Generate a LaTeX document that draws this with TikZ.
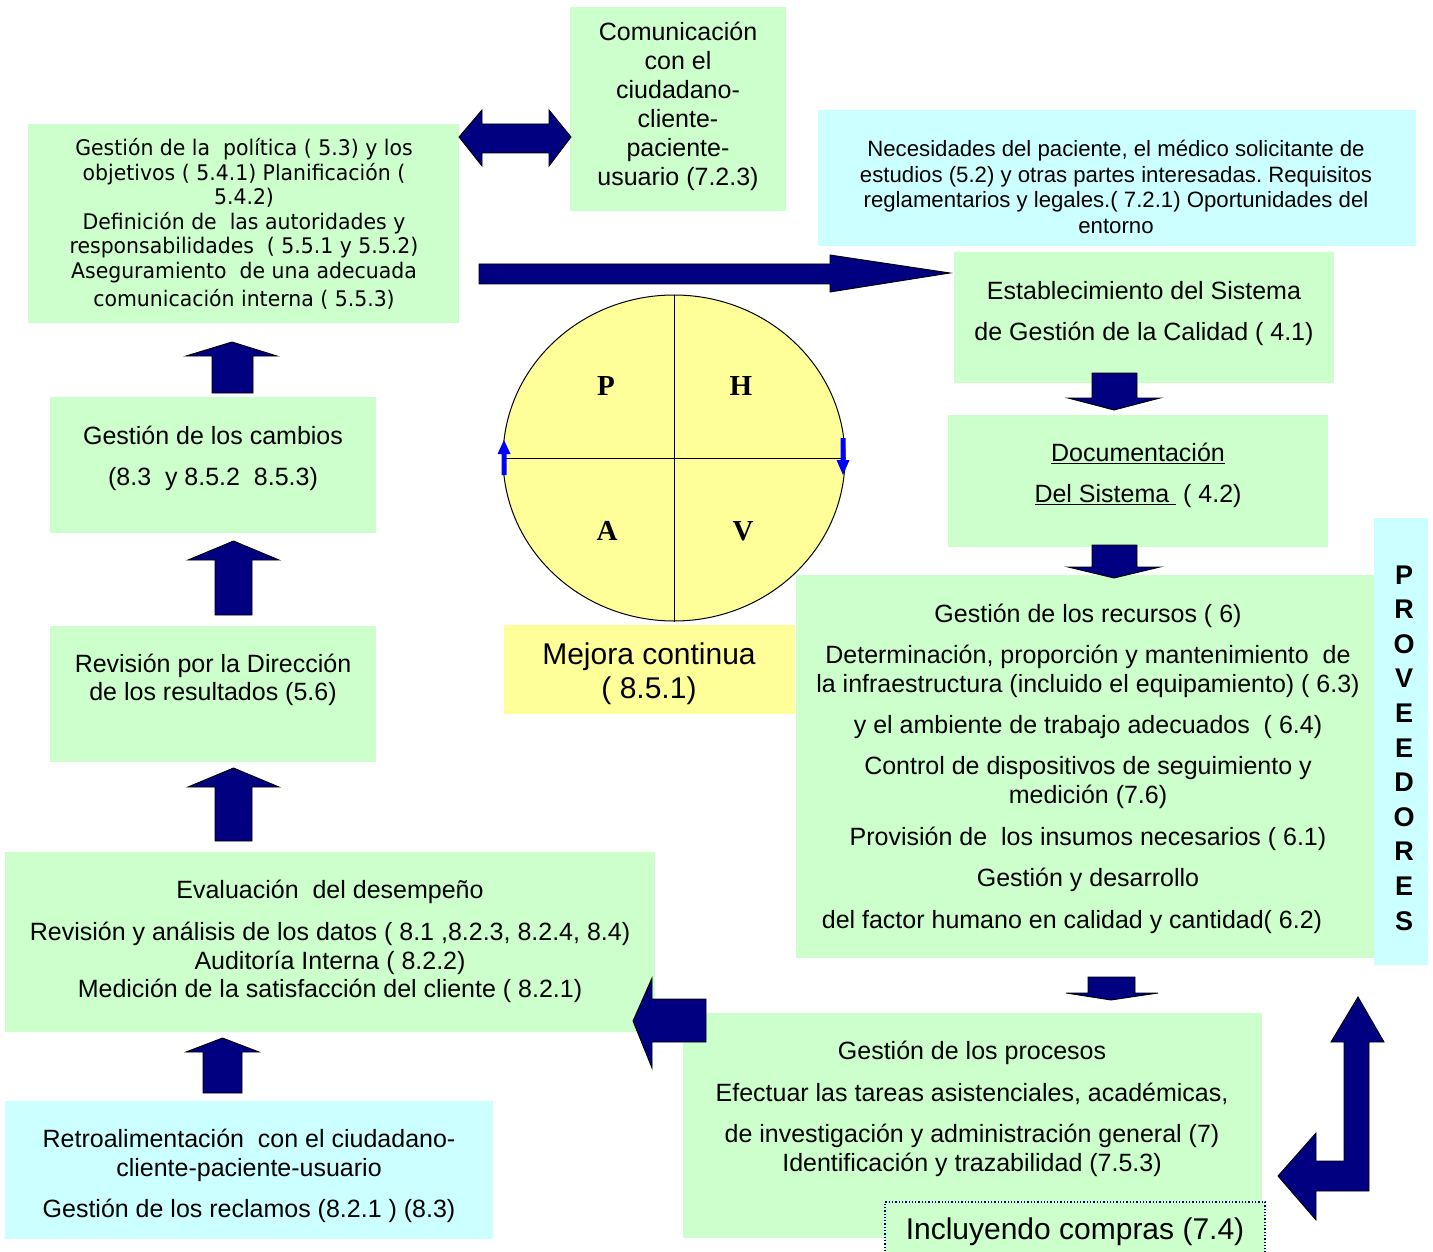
\documentclass[tikz,border=0pt]{standalone}
\usepackage{fontspec}
\usetikzlibrary{shapes.geometric}
\setmainfont{Liberation Sans}
\newfontfamily\vfont[FakeStretch=0.95]{DejaVu Sans}
\newfontfamily\serifb{Liberation Serif}
\definecolor{boxgreen}{HTML}{CCFFCC}
\definecolor{boxcyan}{HTML}{CCFFFF}
\definecolor{boxyellow}{HTML}{FFFF99}
\definecolor{navy}{HTML}{000080}
\definecolor{pureblue}{HTML}{0000FF}
\newcommand\fsz[2]{\fontsize{#1}{#2}\selectfont}
\frenchspacing
\begin{document}
\begin{tikzpicture}[x=1pt,y=-1pt,
  box/.style={inner sep=0pt, outer sep=0pt, anchor=north west, draw=none},
  gbox/.style={box, fill=boxgreen},
  cbox/.style={box, fill=boxcyan},
  ybox/.style={box, fill=boxyellow},
  txt/.style={align=center, inner sep=0pt},
  barrow/.style={fill=navy, draw=black, line width=0.9pt, line join=miter},
  sarrow/.style={fill=pureblue, draw=none},
]
\useasboundingbox[fill=white] (0,0) rectangle (1433,1252);

% ---------- boxes ----------
\node[gbox, minimum width=216pt, minimum height=204pt] (bcom) at (570,7) {};
\node[gbox, minimum width=431pt, minimum height=199pt] (bpol) at (28,124) {};
\node[cbox, minimum width=598pt, minimum height=136pt] (bnec) at (818,110) {};
\node[gbox, minimum width=380pt, minimum height=131pt] (best) at (954,252) {};
\node[gbox, minimum width=380pt, minimum height=132pt] (bdoc) at (948,415) {};
\node[gbox, minimum width=578pt, minimum height=383pt] (brec) at (796,575) {};
\node[cbox, minimum width=54pt, minimum height=447pt] (bprov) at (1374,518) {};
\node[ybox, minimum width=291pt, minimum height=89pt] (bmej) at (504,625) {};
\node[gbox, minimum width=326pt, minimum height=136pt] (bcam) at (50,397) {};
\node[gbox, minimum width=326pt, minimum height=136pt] (brev) at (50,626) {};
\node[gbox, minimum width=650pt, minimum height=180pt] (beva) at (5,852) {};
\node[cbox, minimum width=488pt, minimum height=138pt] (bret) at (5,1101) {};
\node[gbox, minimum width=579pt, minimum height=225pt] (bpro) at (683,1013) {};
\node[box, fill=boxgreen, draw=navy, dotted, line width=1.3pt, minimum width=380pt, minimum height=70pt] (binc) at (885,1202) {};

% ---------- PDCA circle ----------
\node[ellipse, draw=black, fill=boxyellow, line width=1pt, minimum width=342pt, minimum height=326pt, inner sep=0pt] (circ) at (674,458) {};
\draw[line width=1pt] (circ.north) -- (circ.south);
\draw[line width=1pt] (circ.west) -- (circ.east);
\node[txt, font=\serifb\bfseries\fsz{29}{32}] (lp) at (606,386) {P};
\node[txt, font=\serifb\bfseries\fsz{29}{32}] (lh) at (741,386) {H};
\node[txt, font=\serifb\bfseries\fsz{29}{32}] (la) at (607,531) {A};
\node[txt, font=\serifb\bfseries\fsz{29}{32}] (lv) at (743,531) {V};
\fill[sarrow] (504,440) -- (510.5,454) -- (506.5,454) -- (506.5,475) -- (501.5,475) -- (501.5,454) -- (497.5,454) -- cycle;
\fill[sarrow] (843,475) -- (849.5,460) -- (845.5,460) -- (845.5,438) -- (840.5,438) -- (840.5,460) -- (836.5,460) -- cycle;

% ---------- texts ----------
\node[txt, font=\fsz{25}{29}] (tcom) at (678,106.5) {Comunicación\\con el\\ciudadano-\\cliente-\\paciente-\\usuario (7.2.3)};
\node[txt, font=\vfont\fsz{21.5}{24.5}] (tpol) at (244,224) {Gestión de la~ política ( 5.3) y los\\objetivos ( 5.4.1) Planificación (\\5.4.2)\\Definición de~ las autoridades y\\responsabilidades~ ( 5.5.1 y 5.5.2)\\Aseguramiento~ de una adecuada\\[3.5pt]comunicación interna ( 5.5.3)};
\node[txt, font=\fsz{22.2}{25.7}] (tnec) at (1116,187) {Necesidades del paciente, el médico solicitante de\\estudios (5.2) y otras partes interesadas. Requisitos\\reglamentarios y legales.( 7.2.1) Oportunidades del\\entorno};
\node[txt, font=\fsz{25}{41}] (test) at (1144,313.5) {Establecimiento del Sistema\\de Gestión de la Calidad ( 4.1)};
\node[txt, font=\fsz{25}{41}] (tdoc) at (1138,475.5) {\underline{Documentación}\\\underline{Del Sistema\ } ( 4.2)};
\node[txt, font=\fsz{25}{29}] (trec) at (1088,769) {Gestión de los recursos ( 6)\\[12pt]Determinación, proporción y mantenimiento~ de\\la infraestructura (incluido el equipamiento) ( 6.3)\\[12pt]y el ambiente de trabajo adecuados~ ( 6.4)\\[12pt]Control de dispositivos de seguimiento y\\medición (7.6)\\[13pt]Provisión de~ los insumos necesarios ( 6.1)\\[12pt]Gestión y desarrollo\\[13pt]del factor humano en calidad y cantidad( 6.2)\hspace*{32pt}};
\node[txt, font=\bfseries\fsz{27}{34.6}] (tprov) at (1404,748) {P\\R\\O\\V\\E\\E\\D\\O\\R\\E\\S};
\node[txt, font=\fsz{30}{34}] (tmej) at (649,674) {Mejora continua\\( 8.5.1)};
\node[txt, font=\fsz{25}{41}] (tcam) at (213,458.5) {Gestión de los cambios\\(8.3~ y 8.5.2~ 8.5.3)};
\node[txt, font=\fsz{25}{28}] (trev) at (213,680) {Revisión por la Dirección\\de los resultados (5.6)};
\node[txt, font=\fsz{25}{28.5}] (teva) at (330,941.5) {Evaluación~ del desempeño\\[13.5pt]Revisión y análisis de los datos ( 8.1 ,8.2.3, 8.2.4, 8.4)\\Auditoría Interna ( 8.2.2)\\Medición de la satisfacción del cliente ( 8.2.1)};
\node[txt, font=\fsz{25}{29}] (tret) at (249,1176) {Retroalimentación~ con el ciudadano-\\cliente-paciente-usuario\\[12pt]Gestión de los reclamos (8.2.1 ) (8.3)};
\node[txt, font=\fsz{25}{29}] (tpro) at (972,1109) {Gestión de los procesos\\[13pt]Efectuar las tareas asistenciales, académicas,\\[12pt]de investigación y administración general (7)\\Identificación y trazabilidad (7.5.3)};
\node[txt, font=\fsz{30}{34}] (tinc) at (1075,1232) {Incluyendo compras (7.4)};

% ---------- block arrows ----------
% double arrow
\filldraw[barrow] (459,137) -- (482,110) -- (482,124) -- (549,124) -- (549,110) -- (571,137) -- (549,166) -- (549,153) -- (482,153) -- (482,166) -- cycle;
% big right arrow
\filldraw[barrow] (479,264) -- (830,264) -- (830,255) -- (950,273) -- (830,292) -- (830,284) -- (479,284) -- cycle;
% up arrows (left column)
\filldraw[barrow] (212,393) -- (212,356) -- (186,356) -- (232,342) -- (277,356) -- (253,356) -- (253,393) -- cycle;
\filldraw[barrow] (215,615) -- (215,560) -- (188,560) -- (233.5,541) -- (279,560) -- (252,560) -- (252,615) -- cycle;
\filldraw[barrow] (215,841) -- (215,787) -- (188,787) -- (233.5,768) -- (279,787) -- (252,787) -- (252,841) -- cycle;
\filldraw[barrow] (203,1093) -- (203,1052) -- (186,1052) -- (222.5,1038) -- (259,1052) -- (242,1052) -- (242,1093) -- cycle;
% down arrows (right column)
\filldraw[barrow] (1092,373) -- (1137,373) -- (1137,398) -- (1160,398) -- (1114,410) -- (1068,398) -- (1092,398) -- cycle;
\filldraw[barrow] (1092,545) -- (1137,545) -- (1137,567) -- (1160,567) -- (1114,578) -- (1068,567) -- (1092,567) -- cycle;
\filldraw[barrow] (1088,977) -- (1135,977) -- (1135,993) -- (1158,993) -- (1111,1000) -- (1066,993) -- (1088,993) -- cycle;
% left arrow into evaluation
\filldraw[barrow] (706,999) -- (652,999) -- (652,978) -- (633,1021) -- (652,1068) -- (652,1042) -- (706,1042) -- cycle;
% L-shaped arrow
\filldraw[barrow] (1358,997) -- (1384,1042) -- (1369,1042) -- (1369,1191) -- (1316,1191) -- (1316,1220) -- (1278,1176) -- (1316,1133) -- (1316,1161) -- (1344,1161) -- (1344,1042) -- (1331,1042) -- cycle;
\end{tikzpicture}
\end{document}
